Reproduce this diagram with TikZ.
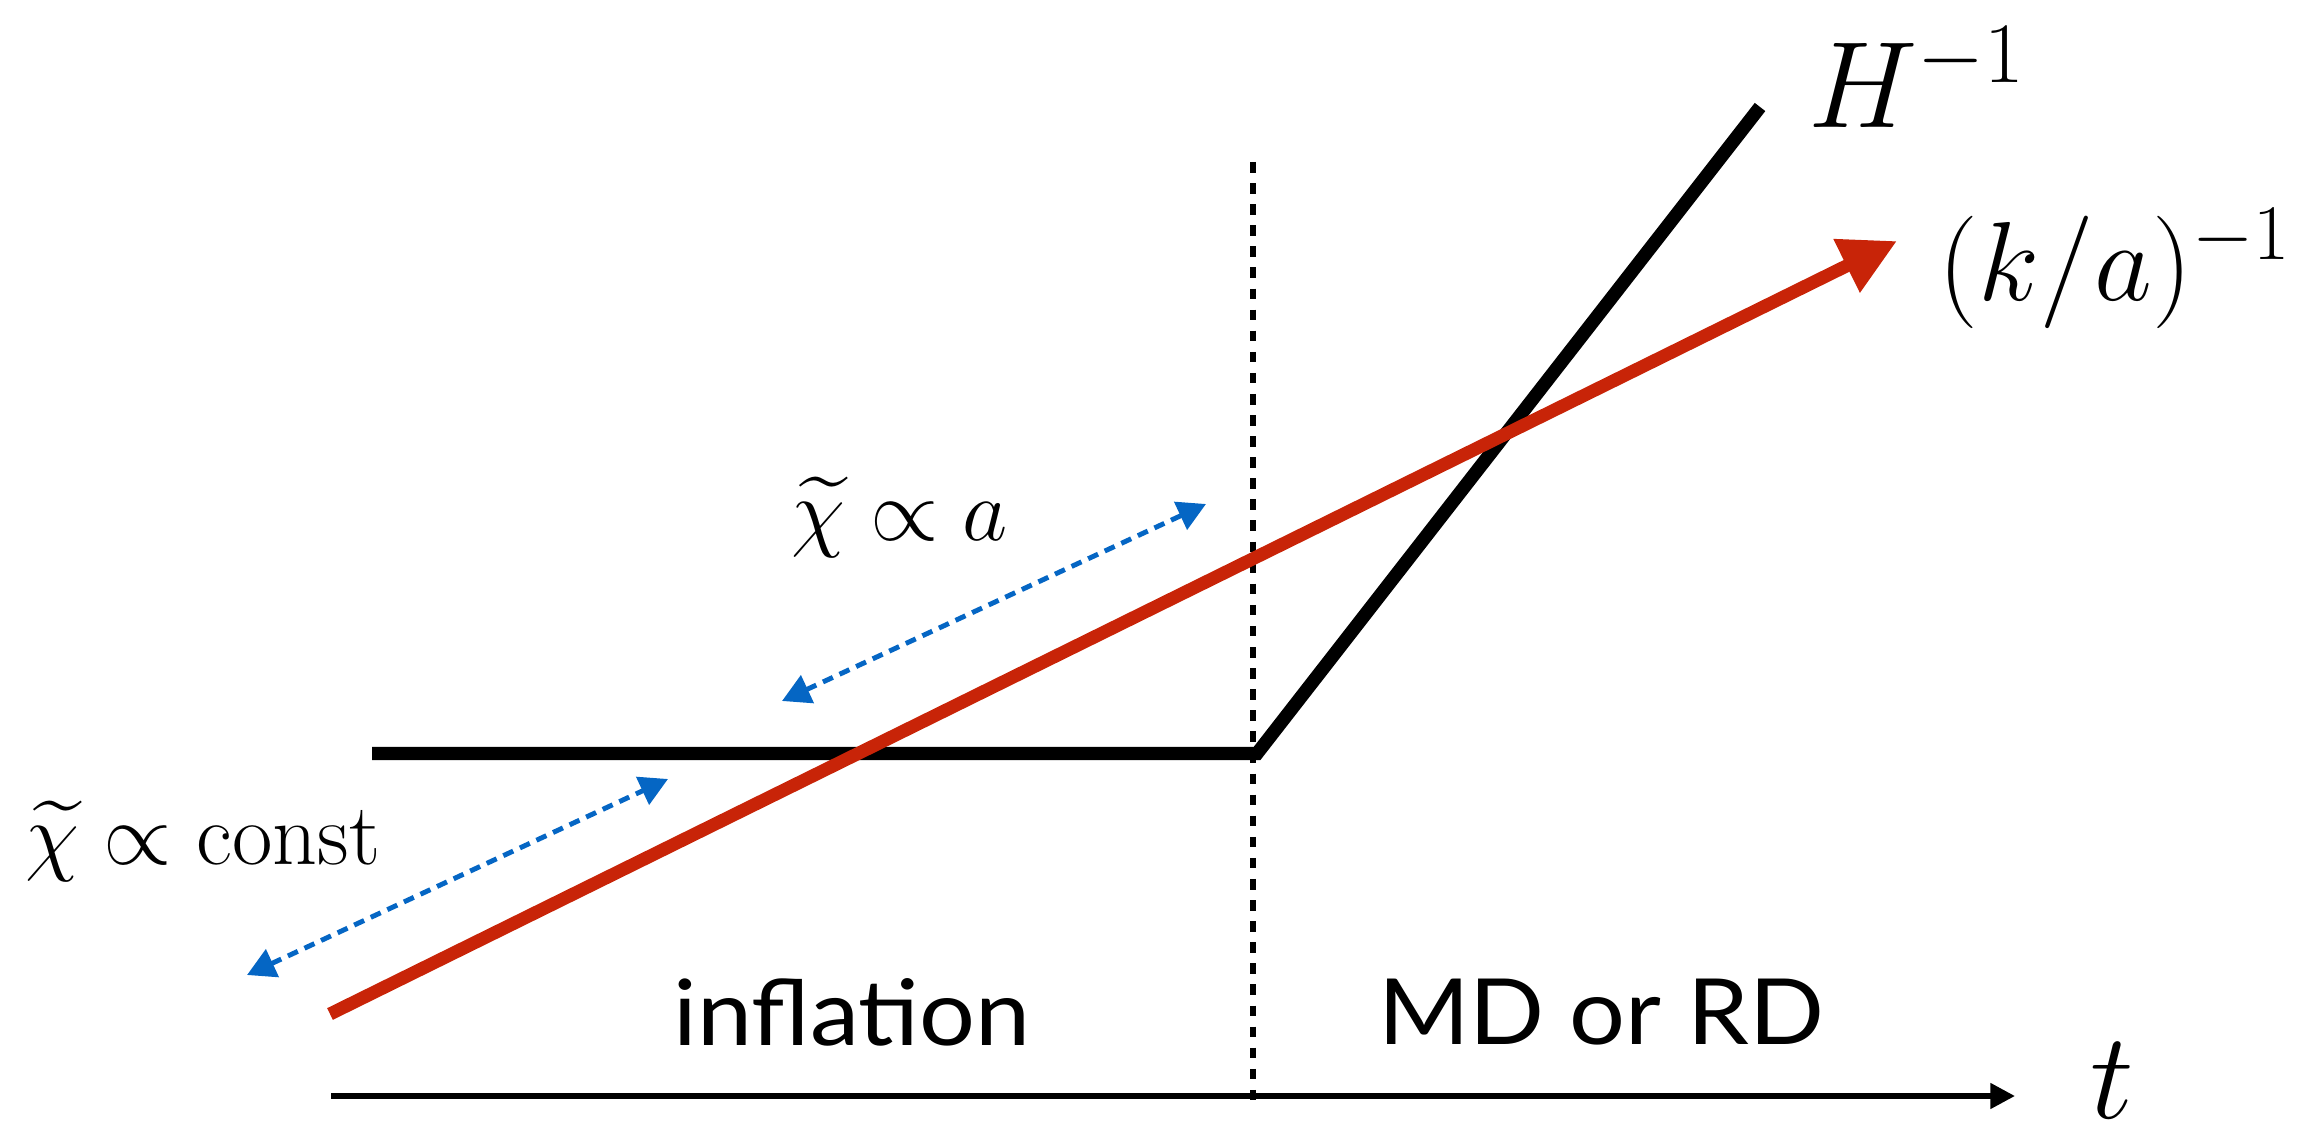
\documentclass[tikz,border=0pt]{standalone}
\usepackage{fix-cm}
\usepackage{amsmath,amssymb}
\usepackage[no-math]{fontspec}
\newfontfamily\eraFont[FakeStretch=1.08]{Lato}
\usepackage{xcolor}
\usepackage{tikz}
\usetikzlibrary{arrows.meta, positioning}
\definecolor{hzred}{HTML}{C82408}
\definecolor{hzblue}{HTML}{0566C4}

\begin{document}
\begin{tikzpicture}[
  horizon/.style={line width=3.8pt, black},
  mode/.style={line width=3.7pt, hzred, -{Triangle[length=16pt, width=16pt]}},
  scaling/.style={line width=1.4pt, hzblue, dash pattern=on 3.1pt off 2.1pt,
    {Triangle[length=8pt, width=8.5pt]}-{Triangle[length=8pt, width=8.5pt]}},
  timeaxis/.style={line width=1.6pt, black, -{Triangle[length=7pt, width=7pt]}},
  boundary/.style={line width=1.7pt, black, dash pattern=on 3pt off 3pt},
  biglabel/.style={inner sep=0pt},
  chilabel/.style={inner sep=0pt, font=\fontsize{25}{30}\selectfont},
  era/.style={inner sep=0pt, font=\eraFont\fontsize{26}{31}\selectfont},
]
  \useasboundingbox (0,0) rectangle (23.04,11.37);

  % end points
  \coordinate (hl) at (3.72,3.835);
  \coordinate (hc) at (12.57,3.835);
  \coordinate (ht) at (17.60,10.30);
  \coordinate (bt) at (12.53,9.75);
  \coordinate (bb) at (12.53,0.34);
  \coordinate (ks) at (3.30,1.23);
  \coordinate (ke) at (18.97,8.96);
  \coordinate (ts) at (3.31,0.41);
  \coordinate (te) at (20.15,0.41);
  \coordinate (ua) at (7.82,4.36);
  \coordinate (ub) at (12.06,6.33);
  \coordinate (la) at (2.47,1.62);
  \coordinate (lb) at (6.68,3.58);

  % horizon and mode
  \draw[horizon] (hl) -- (hc) -- (ht);
  \draw[boundary] (bt) -- (bb);
  \draw[mode] (ks) -- (ke);
  \draw[timeaxis] (ts) -- (te);
  \draw[scaling] (ua) -- (ub);
  \draw[scaling] (la) -- (lb);

  % labels
  \node[biglabel, font=\fontsize{35}{42}\selectfont] (hinv) at (19.17,10.60) {$H^{-1}$};
  \node[biglabel, font=\fontsize{32}{38}\selectfont] (kinv) at (21.15,8.68) {$(k/a)^{-1}$};
  \node[biglabel, font=\fontsize{35}{42}\selectfont] (tlab) at (21.12,0.56) {$t$};
  \node[chilabel] (grow) at (9.00,6.20) {$\widetilde{\chi}\propto a$};
  \node[chilabel] (flat) at (2.03,2.96) {$\widetilde{\chi}\propto\mathrm{const}$};
  \node[era] (infl) at (8.52,1.25) {inflation};
  \node[era] (mdrd) at (16.01,1.25) {MD or RD};
\end{tikzpicture}
\end{document}
